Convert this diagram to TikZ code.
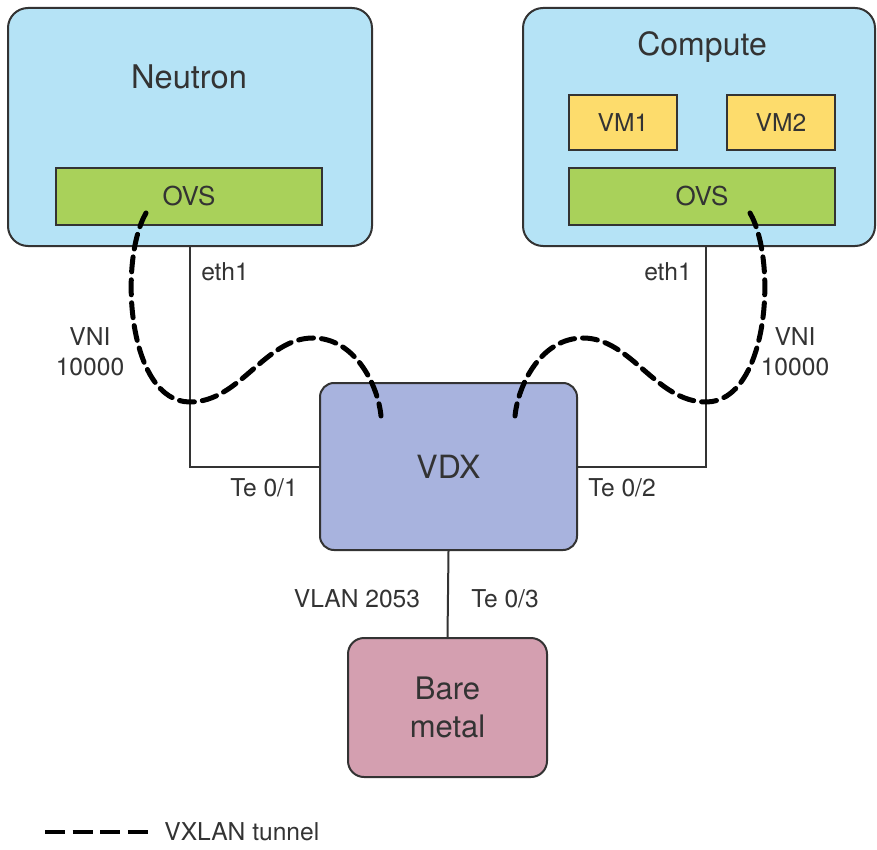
\documentclass[tikz,border=0pt]{standalone}
\usepackage{fontspec}
\setmainfont{TeX Gyre Heros}
\usepackage{xcolor}
\usetikzlibrary{arrows.meta,positioning,calc}
\definecolor{hostblue}{HTML}{B5E3F6}
\definecolor{ovsgreen}{HTML}{A9D15A}
\definecolor{vmyellow}{HTML}{FDDC6C}
\definecolor{vdxblue}{HTML}{A8B3DE}
\definecolor{barepink}{HTML}{D49FB0}
\definecolor{ink}{HTML}{333333}
\begin{document}
\begin{tikzpicture}[x=0.5pt, y=-0.5pt, text=ink,
  host/.style={draw=ink, line width=1pt, rounded corners=10pt, fill=hostblue},
  ovs/.style={draw=ink, line width=1pt, fill=ovsgreen, minimum width=133pt, minimum height=28.5pt, font=\fontsize{13}{15}\selectfont},
  vm/.style={draw=ink, line width=1pt, fill=vmyellow, minimum width=54pt, minimum height=27.5pt, font=\fontsize{12.3}{14}\selectfont},
  lbl/.style={font=\fontsize{12.3}{14.8}\selectfont, align=center, inner sep=1pt},
  tunnel/.style={line width=2.5pt, dash pattern=on 7.5pt off 4pt, line cap=round}]
  \useasboundingbox (0,0) rectangle (877,850);
  % hosts
  \node[host, minimum width=182pt, minimum height=119pt](neutron) at (190,127){};
  \node[host, minimum width=176pt, minimum height=119pt](compute) at (699,127){};
  \node[font=\fontsize{16.3}{19}\selectfont](neutronlbl) at (189,77){Neutron};
  \node[font=\fontsize{16}{19}\selectfont](computelbl) at (702,47){Compute};
  \node[ovs](ovsn) at (189,196.5){OVS};
  \node[ovs](ovsc) at (702,196.5){OVS};
  \node[vm](vm1) at (623,122.5){VM1};
  \node[vm](vm2) at (781,122.5){VM2};
  % switch and bare metal
  \node[draw=ink, line width=1pt, rounded corners=7pt, fill=vdxblue, minimum width=128.5pt, minimum height=83.5pt,
        font=\fontsize{16}{19}\selectfont](vdx) at (448.5,466.5){VDX};
  \node[draw=ink, line width=1pt, rounded corners=8pt, fill=barepink, minimum width=99.5pt, minimum height=69.5pt,
        align=center, font=\fontsize{15.5}{19}\selectfont](bare) at (447.5,707.5){Bare\\metal};
  % links
  \coordinate (ethn) at (190,246);
  \coordinate (ethc) at (706,246);
  \draw[ink, line width=1pt](ethn) |- (vdx.west);
  \draw[ink, line width=1pt](ethc) |- (vdx.east);
  \draw[ink, line width=1pt](vdx.south) -- (bare.north);
  \node[lbl] at (225,272){eth1};
  \node[lbl] at (668,272){eth1};
  \node[lbl] at (90,352){VNI\\10000};
  \node[lbl] at (795,352){VNI\\10000};
  \node[lbl] at (264,488){Te 0/1};
  \node[lbl] at (622,488){Te 0/2};
  \node[lbl] at (357,599){VLAN 2053};
  \node[lbl] at (505,599){Te 0/3};
  % VXLAN tunnels
  \coordinate (tn) at (146,213);  \coordinate (tnv) at (381,416);
  \coordinate (tc) at (750,213);  \coordinate (tcv) at (515,416);
  \draw[tunnel](tn) .. controls (118,262) and (128,402) .. (190,402)
     .. controls (240,402) and (265,338) .. (313,338)
     .. controls (355,338) and (378,385) .. (tnv);
  \draw[tunnel](tc) .. controls (778,262) and (768,402) .. (706,402)
     .. controls (656,402) and (631,338) .. (583,338)
     .. controls (541,338) and (518,385) .. (tcv);
  % legend
  \coordinate (lega) at (45,832);
  \coordinate (legb) at (148,832);
  \node[lbl, anchor=west, inner sep=3pt](legtxt) at (158,832){VXLAN tunnel};
  \draw[line width=2pt, dash pattern=on 10pt off 3.8pt](lega) -- (legb);
\end{tikzpicture}
\end{document}
